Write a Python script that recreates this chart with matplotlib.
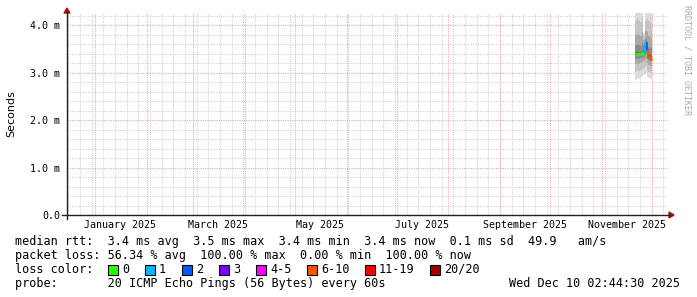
import matplotlib
matplotlib.use("Agg")
import matplotlib.pyplot as plt
from matplotlib.patches import Rectangle, Polygon
from matplotlib.lines import Line2D
from datetime import datetime, timedelta

# ---- data (round trip times in ms) ----
days = ["2025-11-21", "2025-11-22", "2025-11-23", "2025-11-24", "2025-11-25",
        "2025-11-26", "2025-11-27", "2025-11-28", "2025-11-29", "2025-11-30"]
median_ms = [3.39, 3.40, 3.40, 3.39, 3.41, 3.40, 3.62, 3.48, 3.32, 3.30]
loss_count = [0, 0, 0, 0, 0, 0, 1, 2, 6, 6]
# sorted ping values per day (reduced to 10 per day)
pings_ms = [
    [2.85, 3.02, 3.18, 3.30, 3.36, 3.44, 3.58, 3.80, 4.10, 4.60],
    [2.88, 3.05, 3.20, 3.31, 3.37, 3.45, 3.60, 3.82, 4.15, 4.70],
    [2.86, 3.04, 3.19, 3.30, 3.37, 3.44, 3.59, 3.80, 4.12, 4.65],
    [2.90, 3.06, 3.20, 3.31, 3.36, 3.43, 3.57, 3.78, 4.08, 4.55],
    [2.92, 3.08, 3.22, 3.32, 3.38, 3.46, 3.62, 3.85, 4.18, 4.70],
    [2.95, 3.10, 3.24, 3.33, 3.38, 3.45, 3.58, 3.70, 3.78, 3.84],
    [3.00, 3.15, 3.28, 3.40, 3.50, 3.62, 3.72, 3.88, 4.10, 4.50],
    [2.90, 3.05, 3.20, 3.32, 3.42, 3.52, 3.66, 3.86, 4.15, 4.60],
    [2.88, 3.02, 3.16, 3.26, 3.32, 3.40, 3.55, 3.78, 4.10, 4.60],
    [2.86, 3.00, 3.15, 3.25, 3.30, 3.38, 3.52, 3.75, 4.05, 4.55],
]

loss_labels = ["0", "1", "2", "3", "4-5", "6-10", "11-19", "20/20"]
loss_colors = ["#26ff00", "#00b8ff", "#0059ff", "#7e00ff", "#ff00ff",
               "#ff5500", "#ff0000", "#a10000"]
loss_edges = [0, 1, 2, 3, 4, 6, 11, 20]

y_ticks = [0, 1, 2, 3, 4]
y_tick_labels = ["0.0", "1.0 m", "2.0 m", "3.0 m", "4.0 m"]
label_months = ["2025-01", "2025-03", "2025-05", "2025-07", "2025-09", "2025-11"]

legend_lines = [
    "median rtt:  3.4 ms avg  3.5 ms max  3.4 ms min  3.4 ms now  0.1 ms sd  49.9   am/s",
    "packet loss: 56.34 % avg  100.00 % max  0.00 % min  100.00 % now",
    "loss color:",
    "probe:       20 ICMP Echo Pings (56 Bytes) every 60s",
]
stamp = "Wed Dec 10 02:44:30 2025"

end_time = datetime(2025, 12, 10, 2, 44, 30)
start_time = end_time - timedelta(days=360)

W, H = 697, 297
MONO = "DejaVu Sans Mono"
plt.rcParams["lines.scale_dashes"] = False


def fx(x):
    return x / W


def fy(y):
    return 1 - y / H


def loss_color(n):
    c = loss_colors[0]
    for edge, col in zip(loss_edges, loss_colors):
        if n >= edge:
            c = col
    return c


fig = plt.figure(figsize=(W / 100, H / 100), dpi=100)
fig.patch.set_facecolor("white")
ax = fig.add_axes([fx(67), fy(215), 600 / W, 202 / H])
ax.set_facecolor("white")
for s in ax.spines.values():
    s.set_visible(False)

ax.set_xlim(start_time, end_time)
ax.set_ylim(0, 4.26)

# grid: weekly / 0.2 ms minor (grey), monthly / 1 ms major (red)
dots = (0, (0.75, 0.9))
minor_c = "#d0d0d0"
major_c = "#f2a4a4"
t = start_time.replace(hour=0, minute=0, second=0)
while t < end_time:
    if t.weekday() == 0:
        ax.axvline(t, color=minor_c, lw=0.8, ls=dots, zorder=0)
    t += timedelta(days=1)
for k in range(1, 22):
    if k % 5:
        ax.axhline(k * 0.2, color=minor_c, lw=0.8, ls=dots, zorder=0)
m = datetime(2024, 12, 1)
while m < end_time:
    if m > start_time:
        ax.axvline(m, color=major_c, lw=0.8, ls=dots, zorder=0.5)
    m = datetime(m.year + (m.month == 12), m.month % 12 + 1, 1)
for v in y_ticks[1:]:
    ax.axhline(v, color=major_c, lw=0.8, ls=dots, zorder=0.5)

# smoke
t0 = [datetime.strptime(d, "%Y-%m-%d") for d in days]
xs = t0 + [t0[-1] + timedelta(days=1)]
n = len(pings_ms[0])
shades = ["#dcdcdc", "#c4c4c4", "#a8a8a8", "#8c8c8c", "#707070"]
for k in range(n // 2):
    lo = [p[k] for p in pings_ms]
    hi = [p[n - 1 - k] for p in pings_ms]
    ax.fill_between(xs, lo + [lo[-1]], hi + [hi[-1]], step="post",
                    color=shades[k], lw=0, zorder=1)

# median coloured by loss
for i, d in enumerate(t0):
    c = loss_color(loss_count[i])
    ax.plot([d, xs[i + 1]], [median_ms[i], median_ms[i]], color=c,
            lw=2.2, solid_capstyle="butt", zorder=3)
    if i > 0:
        ax.plot([d, d], [median_ms[i - 1], median_ms[i]], color=c,
                lw=1.2, zorder=3)

# ticks
ax.set_yticks(y_ticks)
ax.set_yticklabels(y_tick_labels, fontfamily=MONO, fontsize=7.2)
label_pos = [datetime.strptime(s, "%Y-%m") + timedelta(days=15) for s in label_months]
ax.set_xticks(label_pos)
ax.set_xticklabels([d.strftime("%B %Y") for d in label_pos], fontfamily=MONO, fontsize=7.2)
ax.tick_params(axis="both", length=0)
ax.tick_params(axis="y", pad=5)
ax.tick_params(axis="x", pad=3.5)

# axes with arrows
fig.add_artist(Line2D([fx(62), fx(670)], [fy(215), fy(215)], color="#202020", lw=1.0))
fig.add_artist(Line2D([fx(67), fx(67)], [fy(219), fy(12)], color="#202020", lw=1.0))
arrow_c = "#9a1414"
fig.add_artist(Polygon([(fx(674), fy(215)), (fx(669), fy(212)), (fx(669), fy(218))],
                       closed=True, color=arrow_c, transform=fig.transFigure))
fig.add_artist(Polygon([(fx(67), fy(8)), (fx(64), fy(13)), (fx(70), fy(13))],
                       closed=True, color=arrow_c, transform=fig.transFigure))

fig.text(fx(11), fy(114), "Seconds", rotation=90, ha="center", va="center",
         fontfamily="DejaVu Sans", fontsize=8)
fig.text(fx(687), fy(5), "RRDTOOL / TOBI OETIKER", rotation=270, ha="center", va="top",
         fontfamily=MONO, fontsize=6, color="#ababab")

# legend
rows_y = [241.5, 255.5, 269.5, 283.5]
for txt, y in zip(legend_lines, rows_y):
    fig.text(fx(15), fy(y), txt, ha="left", va="center", fontfamily=MONO, fontsize=8.5)
fig.text(fx(680), fy(rows_y[3]), stamp, ha="right", va="center", fontfamily=MONO, fontsize=8.5)

box_x = [108, 145, 182, 219, 256, 307, 365, 430]
for bx, lab, col in zip(box_x, loss_labels, loss_colors):
    fig.add_artist(Rectangle((fx(bx), fy(rows_y[2] + 5)), 10 / W, 10 / H,
                             facecolor=col, edgecolor="black", lw=0.8,
                             transform=fig.transFigure))
    fig.text(fx(bx + 14), fy(rows_y[2]), lab, ha="left", va="center",
             fontfamily=MONO, fontsize=8.5)

fig.savefig("out.png", dpi=100, facecolor="white")
